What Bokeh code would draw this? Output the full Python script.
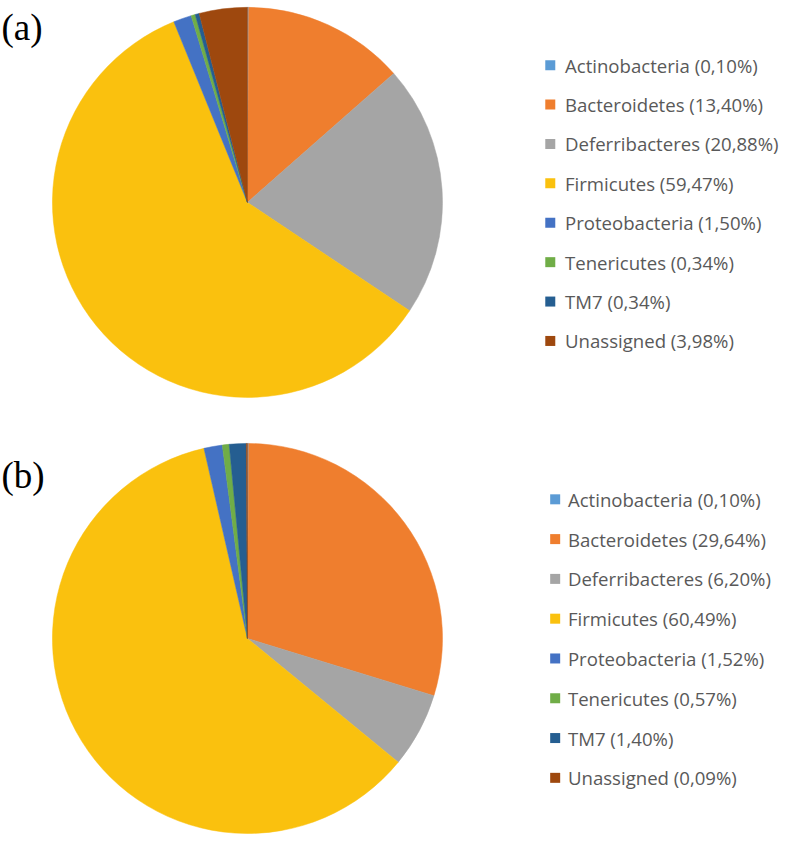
import math
from bokeh.plotting import figure
from bokeh.models import Range1d, ColumnDataSource
from bokeh.core.properties import value
from bokeh.embed import file_html
from bokeh.resources import INLINE

# ---- data ----
phyla = ["Actinobacteria", "Bacteroidetes", "Deferribacteres", "Firmicutes",
         "Proteobacteria", "Tenericutes", "TM7", "Unassigned"]
share_a = [0.10, 13.40, 20.88, 59.47, 1.50, 0.34, 0.34, 3.98]
share_b = [0.10, 29.64, 6.20, 60.49, 1.52, 0.57, 1.40, 0.09]
panel_labels = ["(a)", "(b)"]
colors = ["#5B9BD5", "#EF7E2E", "#A5A5A5", "#FAC10E",
          "#4472C4", "#70AD47", "#255E91", "#9E480E"]

W, H = 784, 837
S = 0.98  # reference-pixel to figure-pixel scale

p = figure(width=W, height=H, x_range=Range1d(0, W), y_range=Range1d(0, H),
           output_backend="svg", toolbar_location=None, min_border=0)
p.axis.visible = False
p.grid.visible = False
p.outline_line_color = None


def X(rx):
    return rx * S


def Y(ry):
    return H - ry * S


panels = [
    dict(vals=share_a, cx=252, cy=206, r=199, ly0=66, lstep=40.2, sqx=561, tx=576,
         label=panel_labels[0], lx=1, lyy=28),
    dict(vals=share_b, cx=252, cy=651, r=199, ly0=509, lstep=40.6, sqx=566, tx=579,
         label=panel_labels[1], lx=1, lyy=485),
]

for pn in panels:
    vals = pn["vals"]
    total = sum(vals)
    starts, ends = [], []
    cum = 0.0
    for v in vals:
        starts.append(math.pi / 2 - 2 * math.pi * cum / total)
        cum += v
        ends.append(math.pi / 2 - 2 * math.pi * cum / total)
    src = ColumnDataSource(dict(start=starts, end=ends, color=colors))
    p.wedge(x=X(pn["cx"]), y=Y(pn["cy"]), radius=pn["r"] * S, start_angle="start",
            end_angle="end", direction="clock", fill_color="color",
            line_color="color", line_width=0.5, source=src)

    labels = [f"{n} ({v:.2f}%)".replace(".", ",") for n, v in zip(phyla, vals)]
    ys = [Y(pn["ly0"] + i * pn["lstep"]) for i in range(len(phyla))]
    lsrc = ColumnDataSource(dict(y=ys, color=colors, text=labels))
    p.rect(x=X(pn["sqx"]), y="y", width=10, height=10, fill_color="color",
           line_color=None, source=lsrc)
    p.text(x=X(pn["tx"]), y="y", text="text", source=lsrc,
           text_font=value("Open Sans"), text_font_size="18.6px",
           text_color="#595959", text_baseline="middle", text_align="left")

    p.text(x=[X(pn["lx"])], y=[Y(pn["lyy"])], text=[pn["label"]],
           text_font=value("Liberation Serif"), text_font_size="37px",
           text_color="#000000", text_baseline="middle", text_align="left")

open("out.html", "w").write(file_html(p, INLINE))
